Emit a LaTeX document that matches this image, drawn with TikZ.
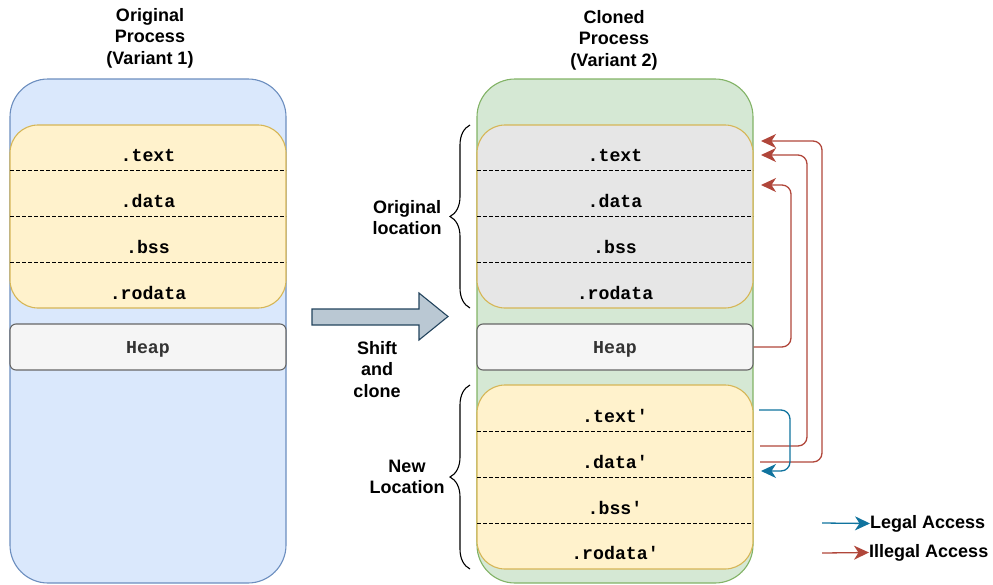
\documentclass[tikz,border=0pt]{standalone}
\usepackage{fontspec}
\setmainfont{Liberation Sans}
\setmonofont{Liberation Mono}
\usetikzlibrary{arrows.meta,decorations.pathreplacing}

\definecolor{procblue}{HTML}{DAE8FC}
\definecolor{procbluedraw}{HTML}{6C8EBF}
\definecolor{procgreen}{HTML}{D5E8D4}
\definecolor{procgreendraw}{HTML}{82B366}
\definecolor{segyellow}{HTML}{FFF2CC}
\definecolor{segyellowdraw}{HTML}{D6B656}
\definecolor{seggrey}{HTML}{E6E6E6}
\definecolor{heapfill}{HTML}{F5F5F5}
\definecolor{heapdraw}{HTML}{666666}
\definecolor{heaptext}{HTML}{333333}
\definecolor{shiftfill}{HTML}{BAC8D3}
\definecolor{shiftdraw}{HTML}{23445D}
\definecolor{legalc}{HTML}{10739E}
\definecolor{illegalc}{HTML}{B0463A}

\tikzset{
  label font/.style={font=\fontsize{18}{21.5}\selectfont\bfseries},
  mono font/.style={font=\fontsize{18.2}{21}\selectfont\ttfamily\bfseries},
  process/.style={draw, line width=1.1pt, rounded corners=38pt, minimum width=276pt, minimum height=504pt, inner sep=0pt},
  segbox/.style={draw=segyellowdraw, line width=1.1pt, rounded corners=28pt, minimum width=276pt, inner sep=0pt},
  heapbox/.style={draw=heapdraw, fill=heapfill, line width=1.1pt, rounded corners=6pt, minimum width=276pt, minimum height=46pt, inner sep=0pt, text depth=0pt, mono font, text=heaptext},
  segtext/.style={mono font, inner sep=0pt, text depth=0pt, anchor=center},
  sepline/.style={dash pattern=on 3.5pt off 2.5pt, line width=1pt},
  title/.style={label font, align=center, inner sep=0pt},
  tipshape/.tip={Stealth[length=15pt,width=14pt,inset=4.5pt]},
  access/.style={line width=1.3pt, rounded corners=9pt, -tipshape},
  legal/.style={access, draw=legalc},
  illegal/.style={access, draw=illegalc},
  bracefig/.style={decorate, decoration={brace, amplitude=20pt}, line width=1.1pt},
}

\begin{document}
\begin{tikzpicture}[x=1pt, y=-1pt]
\useasboundingbox (0,0) rectangle (993,584);

% ---------- original process ----------
\node[title] (t1) at (150,38) {Original\\Process\\(Variant 1)};
\node[process, fill=procblue, draw=procbluedraw] (p1) at (148,331) {};
\node[segbox, fill=segyellow, minimum height=183pt] (s1) at (148,216.5) {};
\foreach \yy in {170,216,262} \draw[sepline] (10,\yy) -- (286,\yy);
\node[segtext] (s1a) at (148,155) {.text};
\node[segtext] (s1b) at (148,201) {.data};
\node[segtext] (s1c) at (148,247) {.bss};
\node[segtext] (s1d) at (148,293) {.rodata};
\node[heapbox] (h1) at (148,347) {Heap};

% ---------- shift arrow ----------
\draw[fill=shiftfill, draw=shiftdraw, line width=1.1pt]
  (312,309) -- (419,309) -- (419,293) -- (448,316.5) -- (419,340) -- (419,325) -- (312,325) -- cycle;
\node[title] (shift) at (377,369.5) {Shift\\and\\clone};

% ---------- cloned process ----------
\node[title] (t2) at (614,40) {Cloned\\Process\\(Variant 2)};
\node[process, fill=procgreen, draw=procgreendraw] (p2) at (615,331) {};
\node[segbox, fill=seggrey, minimum height=183pt] (s2) at (615,216.5) {};
\foreach \yy in {170,216,262} \draw[sepline] (477,\yy) -- (753,\yy);
\node[segtext] (s2a) at (615,155) {.text};
\node[segtext] (s2b) at (615,201) {.data};
\node[segtext] (s2c) at (615,247) {.bss};
\node[segtext] (s2d) at (615,293) {.rodata};
\node[heapbox] (h2) at (615,347) {Heap};

\node[segbox, fill=segyellow, minimum height=184pt] (s3) at (615,477) {};
\foreach \yy in {431,477,523} \draw[sepline] (477,\yy) -- (753,\yy);
\node[segtext] (s3a) at (615,416) {.text'};
\node[segtext] (s3b) at (615,462) {.data'};
\node[segtext] (s3c) at (615,508) {.bss'};
\node[segtext] (s3d) at (615,553) {.rodata'};

% ---------- braces ----------
\draw[bracefig] (470,308) -- (470,125);
\node[title] (origloc) at (407,217.5) {Original\\location};
\draw[bracefig] (470,569) -- (470,385);
\node[title] (newloc) at (407,477) {New\\Location};

% ---------- accesses ----------
\coordinate (heapout) at (h2.east);
\coordinate (textin) at (761,141);
\coordinate (textin2) at (761,155);
\coordinate (datain) at (761,185);
\coordinate (ntextout) at (759,410);
\coordinate (ndatain) at (761,471);
\coordinate (ndataout1) at (760,446);
\coordinate (ndataout2) at (760,462);

\draw[illegal] (heapout) -- (791,347) -- (791,185) -- (datain);
\draw[illegal] (ndataout1) -- (807,446) -- (807,155) -- (textin2);
\draw[illegal] (ndataout2) -- (822,462) -- (822,141) -- (textin);
\draw[legal] (ntextout) -- (790,410) -- (790,471) -- (ndatain);

% ---------- legend ----------
\node[label font, anchor=west, inner sep=0pt] (leg1) at (870,523.5) {Legal Access};
\node[label font, anchor=west, inner sep=0pt] (leg2) at (869,552.5) {Illegal Access};
\coordinate (leg1s) at (822,523);
\coordinate (leg2s) at (822,553);
\draw[legal] (leg1s) -- (leg1.west);
\draw[illegal] (leg2s) -- (leg2.west);
\end{tikzpicture}
\end{document}
